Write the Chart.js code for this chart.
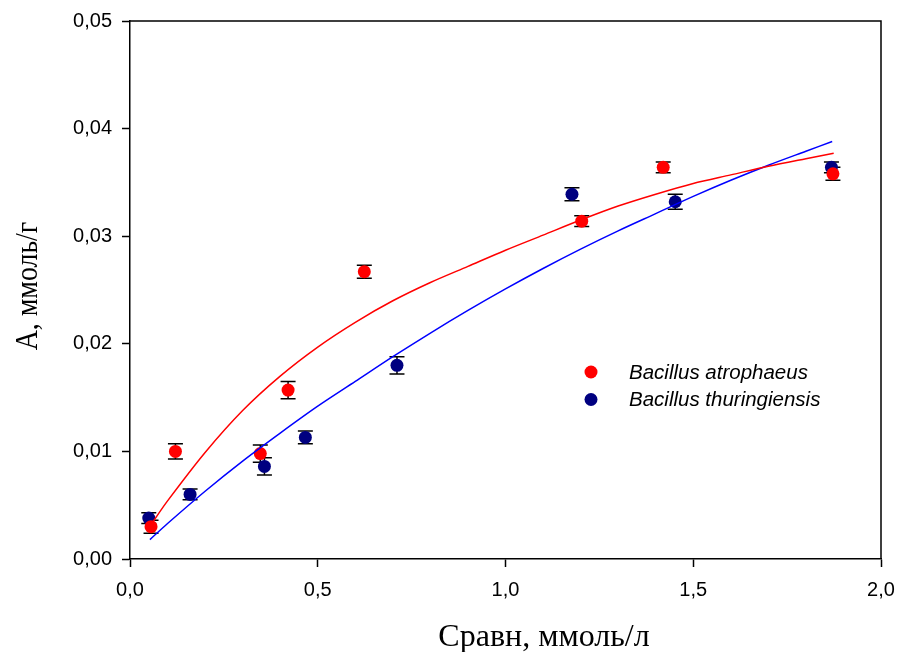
<!DOCTYPE html>
<html>
<head>
<meta charset="utf-8">
<script src="https://cdn.jsdelivr.net/npm/chart.js@4/dist/chart.umd.min.js"></script>
<style>
  html, body { margin: 0; padding: 0; background: #ffffff; }
  #wrap { width: 897px; height: 652px; position: relative; }
</style>
</head>
<body>
<div id="wrap"><canvas id="chart" width="897" height="652"></canvas></div>
<script>
// Сравн (mmol/l) vs A (mmol/g) for two strains, with standard errors
const seriesNames = ['Bacillus atrophaeus', 'Bacillus thuringiensis'];

const atrophaeusC   = [0.056, 0.121, 0.347, 0.421, 0.624, 1.203, 1.420, 1.872];
const atrophaeusA   = [0.0030, 0.0100, 0.0098, 0.0157, 0.0267, 0.0314, 0.0364, 0.0358];
const atrophaeusErr = [0.0006, 0.0007, 0.0008, 0.0008, 0.0006, 0.0005, 0.0005, 0.0006];

const thuringC   = [0.050, 0.160, 0.358, 0.467, 0.711, 1.177, 1.452, 1.868];
const thuringA   = [0.0038, 0.0060, 0.0086, 0.0113, 0.0180, 0.0339, 0.0332, 0.0364];
const thuringErr = [0.0005, 0.0005, 0.0008, 0.0006, 0.0008, 0.0006, 0.0007, 0.0005];

// fitted isotherm curves (points along each line)
const atrophaeusFitC = [0.058, 0.10, 0.20, 0.30, 0.40, 0.50, 0.60, 0.70, 0.80, 0.90,
                        1.00, 1.10, 1.20, 1.30, 1.40, 1.50, 1.60, 1.70, 1.80, 1.874];
const atrophaeusFitA = [0.0033, 0.0054, 0.0099, 0.0138, 0.0170, 0.0197, 0.0220, 0.0240, 0.0257, 0.0272,
                        0.0287, 0.0301, 0.0315, 0.0328, 0.0339, 0.0349, 0.0357, 0.0365, 0.0372, 0.0377];
const thuringFitC = [0.053, 0.10, 0.20, 0.30, 0.40, 0.50, 0.60, 0.70, 0.80, 0.90,
                     1.00, 1.10, 1.20, 1.30, 1.40, 1.50, 1.60, 1.70, 1.80, 1.870];
const thuringFitA = [0.0018, 0.0033, 0.0063, 0.0091, 0.0117, 0.0142, 0.0165, 0.0188, 0.0210, 0.0231,
                     0.0251, 0.0270, 0.0288, 0.0305, 0.0321, 0.0337, 0.0352, 0.0366, 0.0379, 0.0388];

const xTicks = [0, 0.5, 1.0, 1.5, 2.0];
const yTicks = [0, 0.01, 0.02, 0.03, 0.04, 0.05];

const xTitle = 'Сравн, ммоль/л';
const yTitle = 'А, ммоль/г';

const RED = '#ff0000';
const NAVY = '#000080';
const BLUE = '#0000ff';

const pts = (xs, ys) => xs.map((x, i) => ({ x: x, y: ys[i] }));
const comma = (v, d) => v.toFixed(d).replace('.', ',');

// vertical error bars with caps, drawn beneath the markers
const errorBars = {
  id: 'errorBars',
  beforeDatasetsDraw(chart) {
    const { ctx, scales: { x, y } } = chart;
    ctx.save();
    ctx.strokeStyle = '#000';
    ctx.lineWidth = 1.5;
    chart.data.datasets.forEach(ds => {
      if (!ds.errors) return;
      ds.data.forEach((p, i) => {
        const px = x.getPixelForValue(p.x);
        const y1 = y.getPixelForValue(p.y - ds.errors[i]);
        const y2 = y.getPixelForValue(p.y + ds.errors[i]);
        ctx.beginPath();
        ctx.moveTo(px, y1); ctx.lineTo(px, y2);
        ctx.moveTo(px - 7.5, y1); ctx.lineTo(px + 7.5, y1);
        ctx.moveTo(px - 7.5, y2); ctx.lineTo(px + 7.5, y2);
        ctx.stroke();
      });
    });
    ctx.restore();
  }
};

// frame on top/right, axis titles and the in-plot legend
const decorations = {
  id: 'decorations',
  afterDraw(chart) {
    const { ctx, chartArea: a } = chart;
    ctx.save();
    ctx.strokeStyle = '#000';
    ctx.lineWidth = 1.5;
    ctx.beginPath();
    ctx.moveTo(a.left, a.top); ctx.lineTo(a.right, a.top); ctx.lineTo(a.right, a.bottom);
    ctx.stroke();

    ctx.fillStyle = '#000';
    ctx.font = '32px "Liberation Serif", "Times New Roman", serif';
    ctx.textAlign = 'center';
    ctx.textBaseline = 'alphabetic';
    ctx.fillText(xTitle, 544, 646);

    ctx.save();
    ctx.translate(37, 286);
    ctx.rotate(-Math.PI / 2);
    ctx.scale(0.87, 1);
    ctx.fillText(yTitle, 0, 0);
    ctx.restore();

    const items = chart.data.datasets.filter(d => d.legendItem);
    ctx.font = 'italic 20.5px "Liberation Sans", Arial, sans-serif';
    ctx.textAlign = 'left';
    ctx.textBaseline = 'middle';
    items.forEach((d, i) => {
      const cy = 372 + i * 27.5;
      ctx.fillStyle = d.backgroundColor;
      ctx.beginPath();
      ctx.arc(591, cy, 6.5, 0, Math.PI * 2);
      ctx.fill();
      ctx.fillStyle = '#000';
      ctx.fillText(d.label, 629, cy + 1);
    });
    ctx.restore();
  }
};

const tickFont = { family: '"Liberation Sans", Arial, sans-serif', size: 20 };

new Chart(document.getElementById('chart'), {
  type: 'scatter',
  data: {
    datasets: [
      { label: seriesNames[0] + ' fit', data: pts(atrophaeusFitC, atrophaeusFitA), showLine: true,
        borderColor: RED, borderWidth: 1.5, pointRadius: 0, tension: 0.3, fill: false },
      { label: seriesNames[1] + ' fit', data: pts(thuringFitC, thuringFitA), showLine: true,
        borderColor: BLUE, borderWidth: 1.5, pointRadius: 0, tension: 0.3, fill: false },
      { label: seriesNames[0], legendItem: true, data: pts(atrophaeusC, atrophaeusA), errors: atrophaeusErr,
        backgroundColor: RED, borderColor: RED, borderWidth: 0, pointRadius: 6.5 },
      { label: seriesNames[1], legendItem: true, data: pts(thuringC, thuringA), errors: thuringErr,
        backgroundColor: NAVY, borderColor: NAVY, borderWidth: 0, pointRadius: 6.5 }
    ]
  },
  options: {
    responsive: false,
    animation: false,
    layout: { padding: { left: 0, top: 21, right: 16, bottom: 0 } },
    plugins: { legend: { display: false }, tooltip: { enabled: false } },
    scales: {
      x: {
        type: 'linear', min: 0, max: 2,
        afterBuildTicks: s => { s.ticks = xTicks.map(v => ({ value: v })); },
        afterFit: s => { s.height = 93; s.paddingLeft = 0; s.paddingRight = 0; },
        ticks: { callback: v => comma(v, 1), color: '#000', font: tickFont, padding: 11, maxRotation: 0 },
        grid: { drawOnChartArea: false, drawTicks: true, tickLength: 8, tickColor: '#000', tickWidth: 1.5 },
        border: { display: true, color: '#000', width: 1.5 }
      },
      y: {
        type: 'linear', min: 0, max: 0.05,
        afterBuildTicks: s => { s.ticks = yTicks.map(v => ({ value: v })); },
        afterFit: s => { s.width = 130; s.paddingTop = 0; s.paddingBottom = 0; },
        ticks: { callback: v => comma(v, 2), color: '#000', font: tickFont, padding: 10 },
        grid: { drawOnChartArea: false, drawTicks: true, tickLength: 8, tickColor: '#000', tickWidth: 1.5 },
        border: { display: true, color: '#000', width: 1.5 }
      }
    }
  },
  plugins: [errorBars, decorations]
});
</script>
</body>
</html>
